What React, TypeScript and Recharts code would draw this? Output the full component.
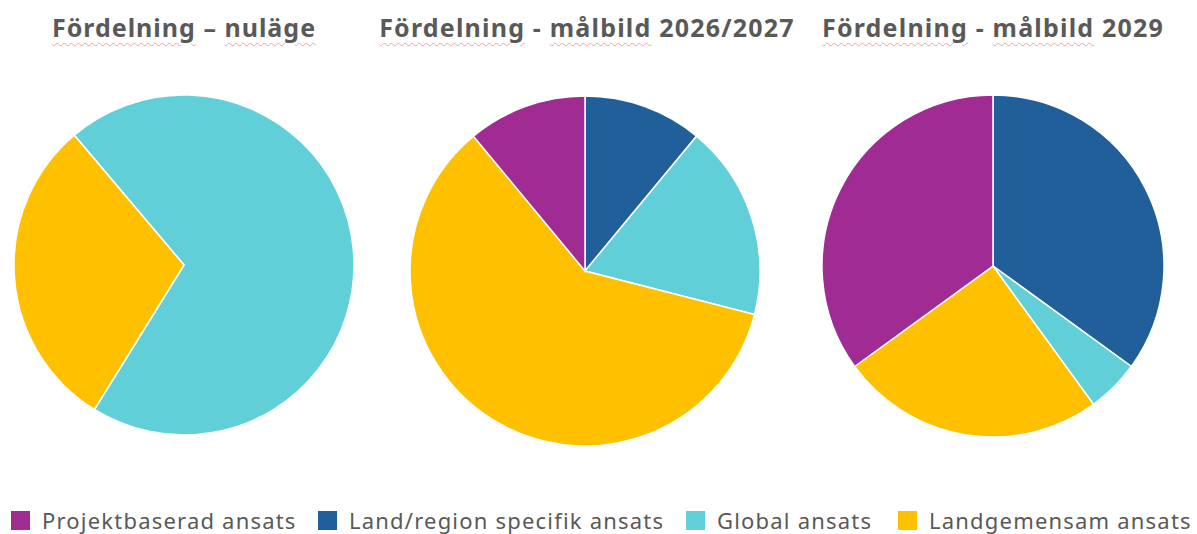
import React from "react";
import { PieChart, Pie, Cell } from "recharts";

const categories = [
  "Projektbaserad ansats",
  "Land/region specifik ansats",
  "Global ansats",
  "Landgemensam ansats",
];

const colors: Record<string, string> = {
  "Projektbaserad ansats": "#A02B93",
  "Land/region specifik ansats": "#215F9A",
  "Global ansats": "#61CFD8",
  "Landgemensam ansats": "#FFC000",
};

// title words; words flagged true carry the spell-check underline seen in the reference
const titles: [string, boolean][][] = [
  [["Fördelning", true], [" – ", false], ["nuläge", true]],
  [["Fördelning", true], [" - ", false], ["målbild", true], [" 2026/2027", false]],
  [["Fördelning", true], [" - ", false], ["målbild", true], [" 2029", false]],
];

// values in percent, listed in clockwise drawing order
const nulage = [
  { name: "Global ansats", value: 70 },
  { name: "Landgemensam ansats", value: 30 },
];

const malbild2027 = [
  { name: "Land/region specifik ansats", value: 11 },
  { name: "Global ansats", value: 18 },
  { name: "Landgemensam ansats", value: 60 },
  { name: "Projektbaserad ansats", value: 11 },
];

const malbild2029 = [
  { name: "Land/region specifik ansats", value: 35 },
  { name: "Global ansats", value: 5 },
  { name: "Landgemensam ansats", value: 25 },
  { name: "Projektbaserad ansats", value: 35 },
];

const W = 1197;
const H = 534;

const pies = [
  { data: nulage, cx: 184, cy: 265, r: 170, start: 130.2 },
  { data: malbild2027, cx: 585, cy: 271, r: 175, start: 90 },
  { data: malbild2029, cx: 993, cy: 266, r: 171, start: 90 },
];

const titleCenters = [184, 587, 993];
const titleSpacing = [1.0, 1.2, 1.2];
const legendX = [11, 318, 686, 898];

const FONT = "'Noto Sans', 'Open Sans', sans-serif";

export default function App() {
  return (
    <div
      style={{
        position: "absolute",
        left: 0,
        top: 0,
        width: W,
        height: H,
        background: "#ffffff",
        overflow: "hidden",
      }}
    >
      <PieChart width={W} height={H} margin={{ top: 0, right: 0, bottom: 0, left: 0 }}>
        {pies.map((p, i) => (
          <Pie
            key={i}
            data={p.data}
            dataKey="value"
            nameKey="name"
            cx={p.cx}
            cy={p.cy}
            outerRadius={p.r}
            innerRadius={0}
            startAngle={p.start}
            endAngle={p.start - 360}
            stroke="#ffffff"
            strokeWidth={1.5}
            isAnimationActive={false}
            label={false}
            labelLine={false}
          >
            {p.data.map((d) => (
              <Cell key={d.name} fill={colors[d.name]} />
            ))}
          </Pie>
        ))}
      </PieChart>
      {titles.map((parts, i) => (
        <div
          key={i}
          style={{
            position: "absolute",
            left: titleCenters[i] - 250,
            width: 500,
            top: 10,
            textAlign: "center",
            fontFamily: FONT,
            fontWeight: 700,
            fontSize: 25,
            letterSpacing: titleSpacing[i],
            color: "#595959",
            whiteSpace: "pre",
            lineHeight: "34px",
          }}
        >
          {parts.map(([w, u], j) => (
            <span
              key={j}
              style={
                u
                  ? {
                      textDecorationLine: "underline",
                      textDecorationStyle: "wavy",
                      textDecorationColor: "rgba(240,90,90,0.55)",
                      textDecorationThickness: "1px",
                      textUnderlineOffset: "5px",
                    }
                  : undefined
              }
            >
              {w}
            </span>
          ))}
        </div>
      ))}
      {categories.map((c, i) => (
        <div
          key={c}
          style={{
            position: "absolute",
            left: legendX[i],
            top: 505,
            height: 30,
            display: "flex",
            alignItems: "center",
            fontFamily: FONT,
            fontSize: 22,
            letterSpacing: 1.2,
            color: "#595959",
            whiteSpace: "nowrap",
            lineHeight: "26px",
          }}
        >
          <span
            style={{
              display: "inline-block",
              width: 19,
              height: 19,
              background: colors[c],
              marginRight: 12,
            }}
          />
          <span style={{ position: "relative", top: 0 }}>{c}</span>
        </div>
      ))}
    </div>
  );
}
